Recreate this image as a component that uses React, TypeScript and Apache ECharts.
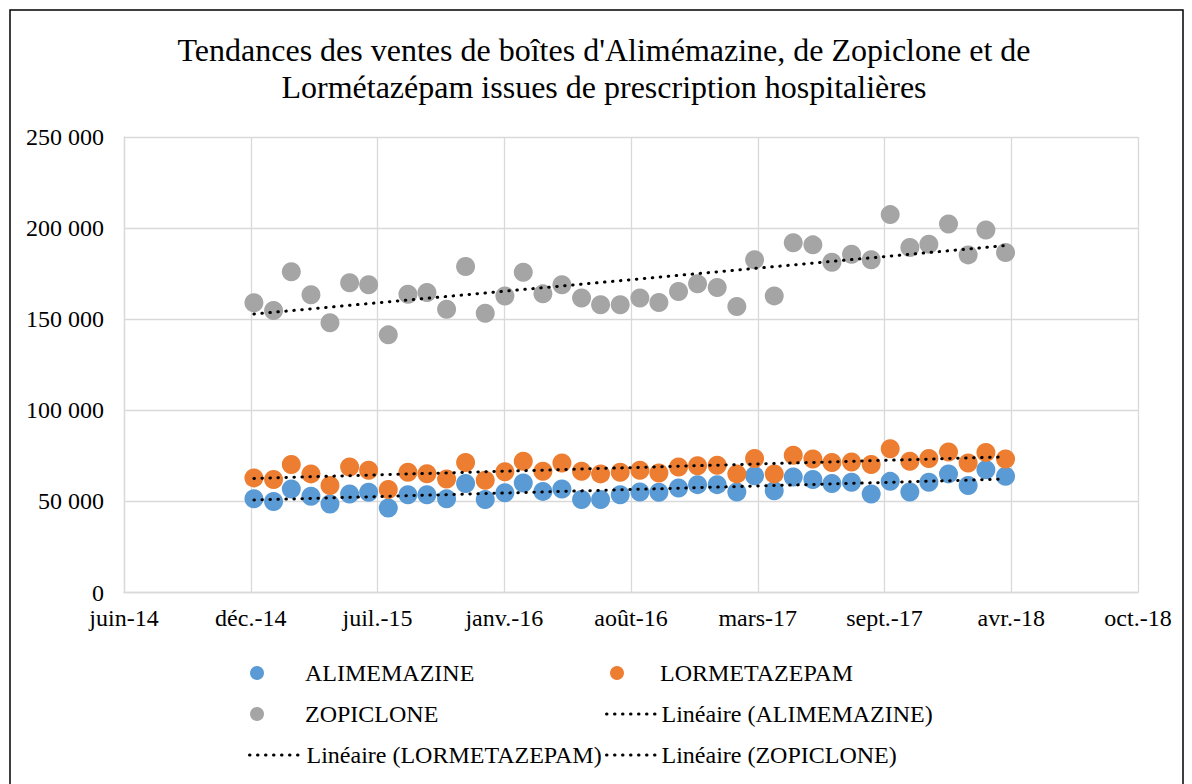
import React, { useEffect, useRef } from "react";
import * as echarts from "echarts";

const months = [
  "2015-01", "2015-02", "2015-03", "2015-04", "2015-05", "2015-06", "2015-07", "2015-08", "2015-09", "2015-10", "2015-11", "2015-12",
  "2016-01", "2016-02", "2016-03", "2016-04", "2016-05", "2016-06", "2016-07", "2016-08", "2016-09", "2016-10", "2016-11", "2016-12",
  "2017-01", "2017-02", "2017-03", "2017-04", "2017-05", "2017-06", "2017-07", "2017-08", "2017-09", "2017-10", "2017-11", "2017-12",
  "2018-01", "2018-02", "2018-03", "2018-04",
];

const alimemazine = [
  51400, 49900, 56800, 52800, 48600, 54100, 55000, 46400, 53700, 53700, 51400, 59800,
  51000, 54700, 60100, 55500, 56800, 51000, 51000, 53700, 55200, 55000, 57400, 59200,
  59200, 55200, 64100, 55900, 63400, 62000, 59800, 60500, 54100, 61000, 55200, 60500,
  65100, 58700, 67400, 63800,
];

const lormetazepam = [
  62900, 62000, 70200, 65100, 58700, 68900, 67100, 56500, 66000, 65200, 62300, 71400,
  61600, 66300, 72000, 66500, 71100, 66500, 65100, 66000, 67100, 65600, 68900, 69600,
  69800, 65100, 73500, 65100, 75300, 73300, 71400, 71600, 70200, 78900, 72000, 73500,
  77100, 71100, 76900, 73300,
];

const zopiclone = [
  159000, 154800, 176000, 163400, 148000, 170000, 168900, 141400, 163700, 164600, 155500, 178900,
  153300, 162700, 175800, 163900, 168900, 161600, 157900, 157900, 161600, 159200, 165200, 169400,
  167400, 157000, 182600, 162800, 192000, 190800, 181300, 185700, 182600, 207400, 189300, 191200,
  202300, 185300, 199000, 186600,
];

const xTickLabels = ["juin-14", "déc.-14", "juil.-15", "janv.-16", "août-16", "mars-17", "sept.-17", "avr.-18", "oct.-18"];

const AXIS_BASE = Date.UTC(2014, 5, 10);
const DAY = 86400000;
const X_INTERVAL = 200;

const FONT = "'Liberation Serif', 'Times New Roman', serif";

function dayOffset(m: string): number {
  const [y, mo] = m.split("-").map(Number);
  return (Date.UTC(y, mo - 1, 1) - AXIS_BASE) / DAY;
}

function pairs(values: number[]): number[][] {
  return values.map((v, i) => [dayOffset(months[i]), v]);
}

function trend(values: number[]): number[][] {
  const pts = pairs(values);
  const n = pts.length;
  let sx = 0, sy = 0, sxx = 0, sxy = 0;
  pts.forEach(([x, y]) => { sx += x; sy += y; sxx += x * x; sxy += x * y; });
  const b = (n * sxy - sx * sy) / (n * sxx - sx * sx);
  const a = (sy - b * sx) / n;
  const x0 = pts[0][0];
  const x1 = pts[n - 1][0];
  return [[x0, a + b * x0], [x1, a + b * x1]];
}

export default function App() {
  const ref = useRef<HTMLDivElement>(null);

  useEffect(() => {
    if (!ref.current) return;
    const chart = echarts.init(ref.current, null, { renderer: "svg" });

    const dotted = { color: "#000", width: 3, type: [0.5, 7.5] as any, cap: "round" as any, opacity: 1 };

    const legendItem = (name: string, left: number, cy: number, w: number, isLine: boolean) => ({
      data: [isLine ? { name } : { name, icon: "circle" }],
      left,
      top: cy - 12,
      itemWidth: w,
      itemHeight: 14,
      itemGap: 0,
      padding: 0,
      selectedMode: false,
      textStyle: { fontFamily: FONT, fontSize: 24, color: "#000", lineHeight: 24 },
      lineStyle: { width: 3, type: [0.5, 7.5] as any, cap: "round" as any, color: "#000", opacity: 1 },
      itemStyle: isLine ? { color: "rgba(0,0,0,0)", borderWidth: 0, opacity: 0 } : { opacity: 1 },
    });

    chart.setOption({
      animation: false,
      backgroundColor: "#fff",
      title: {
        text: "Tendances des ventes de boîtes d'Alimémazine, de Zopiclone et de\nLormétazépam issues de prescription hospitalières",
        left: 604,
        textAlign: "center",
        top: 31,
        padding: 0,
        textStyle: { fontFamily: FONT, fontSize: 32, fontWeight: "normal", color: "#000", lineHeight: 37 },
      },
      grid: { left: 124, right: 54, top: 137, bottom: 191.5, containLabel: false },
      xAxis: {
        type: "value",
        min: 0,
        max: 1600,
        interval: X_INTERVAL,
        axisLine: { show: true, lineStyle: { color: "#D9D9D9", width: 1.3 } },
        axisTick: { show: false },
        splitLine: { show: true, lineStyle: { color: "#D9D9D9", width: 1.3 } },
        axisLabel: {
          margin: 13,
          fontFamily: FONT,
          fontSize: 24,
          color: "#000",
          formatter: (v: number) => xTickLabels[Math.round(v / X_INTERVAL)] ?? "",
        },
      },
      yAxis: {
        type: "value",
        min: 0,
        max: 250000,
        interval: 50000,
        axisLine: { show: true, lineStyle: { color: "#D9D9D9", width: 1.3 } },
        axisTick: { show: false },
        splitLine: { show: true, lineStyle: { color: "#D9D9D9", width: 1.3 } },
        axisLabel: {
          margin: 20,
          fontFamily: FONT,
          fontSize: 24,
          color: "#000",
          formatter: (v: number) => String(v).replace(/\B(?=(\d{3})+(?!\d))/g, " "),
        },
      },
      legend: [
        legendItem("ALIMEMAZINE", 250, 673, 86, false),
        legendItem("LORMETAZEPAM", 610, 673, 76, false),
        legendItem("ZOPICLONE", 250, 714, 86, false),
        legendItem("Linéaire (ALIMEMAZINE)", 605, 714, 50, true),
        legendItem("Linéaire (LORMETAZEPAM)", 248, 755, 52, true),
        legendItem("Linéaire (ZOPICLONE)", 605, 755, 50, true),
      ],
      series: [
        { name: "ALIMEMAZINE", type: "scatter", symbolSize: 19, itemStyle: { color: "#5B9BD5", opacity: 1 }, data: pairs(alimemazine), z: 2 },
        { name: "LORMETAZEPAM", type: "scatter", symbolSize: 19, itemStyle: { color: "#ED7D31", opacity: 1 }, data: pairs(lormetazepam), z: 2 },
        { name: "ZOPICLONE", type: "scatter", symbolSize: 19, itemStyle: { color: "#A5A5A5", opacity: 1 }, data: pairs(zopiclone), z: 2 },
        { name: "Linéaire (ALIMEMAZINE)", type: "line", symbol: "none", lineStyle: dotted, data: trend(alimemazine), z: 5 },
        { name: "Linéaire (LORMETAZEPAM)", type: "line", symbol: "none", lineStyle: dotted, data: trend(lormetazepam), z: 5 },
        { name: "Linéaire (ZOPICLONE)", type: "line", symbol: "none", lineStyle: dotted, data: trend(zopiclone), z: 5 },
      ],
      graphic: [
        {
          type: "rect",
          shape: { x: 10, y: 10, width: 1173, height: 800 },
          style: { fill: "none", stroke: "#000", lineWidth: 1.5 },
          silent: true,
          z: 100,
        },
      ],
    });

    return () => chart.dispose();
  }, []);

  return <div ref={ref} style={{ position: "absolute", left: 0, top: 0, width: 1192, height: 784 }} />;
}
